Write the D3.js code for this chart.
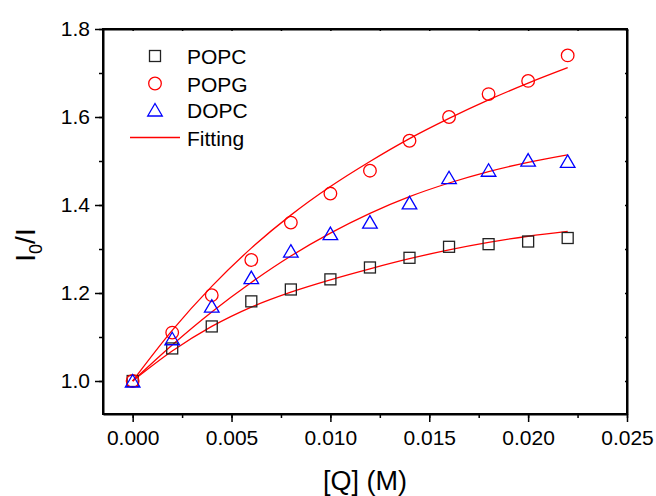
<!DOCTYPE html>
<html>
<head>
<meta charset="utf-8">
<script src="https://cdn.jsdelivr.net/npm/d3@7"></script>
<style>
  body { margin: 0; background: #fff; }
  svg text { font-family: Arial, "Liberation Sans", sans-serif; fill: #000; }
</style>
</head>
<body>
<svg id="chart" width="656" height="496"></svg>
<script>
// ===== Data =====
const conc = [0, 0.002, 0.004, 0.006, 0.008, 0.010, 0.012, 0.014, 0.016, 0.018, 0.020, 0.022];
const popc = [1.000, 1.074, 1.124, 1.181, 1.208, 1.231, 1.258, 1.280, 1.305, 1.311, 1.317, 1.325];
const popg = [1.000, 1.110, 1.195, 1.275, 1.360, 1.426, 1.478, 1.546, 1.600, 1.652, 1.682, 1.740];
const dopc = [1.000, 1.096, 1.170, 1.235, 1.295, 1.335, 1.361, 1.405, 1.462, 1.479, 1.502, 1.499];
// fitted curves, read at the same concentrations
const fitPopc = [1.000, 1.068, 1.124, 1.168, 1.202, 1.230, 1.255, 1.278, 1.298, 1.315, 1.329, 1.340];
const fitPopg = [1.000, 1.115, 1.215, 1.302, 1.377, 1.442, 1.499, 1.551, 1.597, 1.639, 1.677, 1.712];
const fitDopc = [1.000, 1.082, 1.157, 1.224, 1.284, 1.336, 1.381, 1.419, 1.450, 1.476, 1.497, 1.514];

const xTicks = [0, 0.005, 0.010, 0.015, 0.020, 0.025];
const yTicks = [1.0, 1.2, 1.4, 1.6, 1.8];
const legendNames = ["POPC", "POPG", "DOPC", "Fitting"];

// ===== Layout =====
const svg = d3.select("#chart");
const pLeft = 103, pRight = 627, pTop = 29, pBottom = 414;

const x = d3.scaleLinear().domain([-0.0015, 0.025]).range([pLeft, pRight]);
const y = d3.scaleLinear().domain([0.925, 1.8]).range([pBottom, pTop]);

const xMinor = d3.range(0, 0.0251, 0.0025);
const yMinor = d3.range(1.0, 1.801, 0.1);

// ===== Axes =====
// minor ticks first
svg.append("g")
  .attr("transform", `translate(0,${pBottom})`)
  .call(d3.axisBottom(x).tickValues(xMinor).tickSize(4).tickFormat("").tickSizeOuter(0))
  .call(g => g.select(".domain").remove());
svg.append("g")
  .attr("transform", `translate(${pLeft},0)`)
  .call(d3.axisLeft(y).tickValues(yMinor).tickSize(4).tickFormat("").tickSizeOuter(0))
  .call(g => g.select(".domain").remove());

svg.append("g")
  .attr("transform", `translate(0,${pBottom})`)
  .call(d3.axisBottom(x).tickValues(xTicks).tickSize(8).tickPadding(8)
    .tickFormat(d3.format(".3f")).tickSizeOuter(0));
svg.append("g")
  .attr("transform", `translate(${pLeft},0)`)
  .call(d3.axisLeft(y).tickValues(yTicks).tickSize(8).tickPadding(5)
    .tickFormat(d3.format(".1f")).tickSizeOuter(0));

// top / right: tiny inward ticks
svg.append("g")
  .attr("transform", `translate(0,${pTop})`)
  .call(d3.axisTop(x).tickValues(xMinor).tickSize(-2).tickFormat("").tickSizeOuter(0));
svg.append("g")
  .attr("transform", `translate(${pRight},0)`)
  .call(d3.axisRight(y).tickValues(yMinor).tickSize(-2).tickFormat("").tickSizeOuter(0));

svg.selectAll(".domain").attr("stroke-width", 2);
svg.selectAll(".tick line").attr("stroke-width", 1.5);
svg.selectAll(".tick text").attr("font-size", "21px");

// frame
svg.append("rect")
  .attr("x", pLeft).attr("y", pTop)
  .attr("width", pRight - pLeft).attr("height", pBottom - pTop)
  .attr("fill", "none").attr("stroke", "#000").attr("stroke-width", 2);

// axis titles
svg.append("text")
  .attr("x", (pLeft + pRight) / 2).attr("y", 490)
  .attr("text-anchor", "middle").attr("font-size", "27px")
  .text("[Q] (M)");

const yLab = svg.append("text")
  .attr("transform", "translate(35,245) rotate(-90)")
  .attr("text-anchor", "middle").attr("font-size", "28px");
yLab.append("tspan").text("I");
yLab.append("tspan").attr("font-size", "18px").attr("dy", 7).text("0");
yLab.append("tspan").attr("dy", -7).text("/I");

// ===== Fitting lines =====
const line = d3.line()
  .x((d, i) => x(conc[i]))
  .y(d => y(d))
  .curve(d3.curveMonotoneX);

[fitPopc, fitPopg, fitDopc].forEach(f => {
  svg.append("path")
    .datum(f)
    .attr("d", line)
    .attr("fill", "none")
    .attr("stroke", "#ff0000")
    .attr("stroke-width", 1.3);
});

// ===== Markers =====
const tri = "M0,-6.5L7.3,6L-7.3,6Z";

svg.append("g").selectAll("rect")
  .data(popc)
  .join("rect")
  .attr("x", (d, i) => x(conc[i]) - 5.5)
  .attr("y", d => y(d) - 5.5)
  .attr("width", 11).attr("height", 11)
  .attr("fill", "none").attr("stroke", "#222").attr("stroke-width", 1.3);

svg.append("g").selectAll("circle")
  .data(popg)
  .join("circle")
  .attr("cx", (d, i) => x(conc[i]))
  .attr("cy", d => y(d))
  .attr("r", 6.3)
  .attr("fill", "none").attr("stroke", "#ff0000").attr("stroke-width", 1.3);

svg.append("g").selectAll("path")
  .data(dopc)
  .join("path")
  .attr("transform", (d, i) => `translate(${x(conc[i])},${y(d)})`)
  .attr("d", tri)
  .attr("fill", "none").attr("stroke", "#0000ff").attr("stroke-width", 1.3);

// ===== Legend =====
const lg = svg.append("g");
const rowY = [56, 83.5, 110, 137.5];

lg.append("rect")
  .attr("x", 149.5).attr("y", rowY[0] - 5.5).attr("width", 11).attr("height", 11)
  .attr("fill", "none").attr("stroke", "#222").attr("stroke-width", 1.3);
lg.append("circle")
  .attr("cx", 155).attr("cy", rowY[1]).attr("r", 6.3)
  .attr("fill", "none").attr("stroke", "#ff0000").attr("stroke-width", 1.3);
lg.append("path")
  .attr("transform", `translate(155,${rowY[2]})`).attr("d", tri)
  .attr("fill", "none").attr("stroke", "#0000ff").attr("stroke-width", 1.3);
lg.append("line")
  .attr("x1", 130).attr("x2", 180).attr("y1", rowY[3]).attr("y2", rowY[3])
  .attr("stroke", "#ff0000").attr("stroke-width", 1.3);

lg.selectAll("text")
  .data(legendNames)
  .join("text")
  .attr("x", 187)
  .attr("y", (d, i) => rowY[i] + 8)
  .attr("font-size", "21px")
  .text(d => d);
</script>
</body>
</html>
